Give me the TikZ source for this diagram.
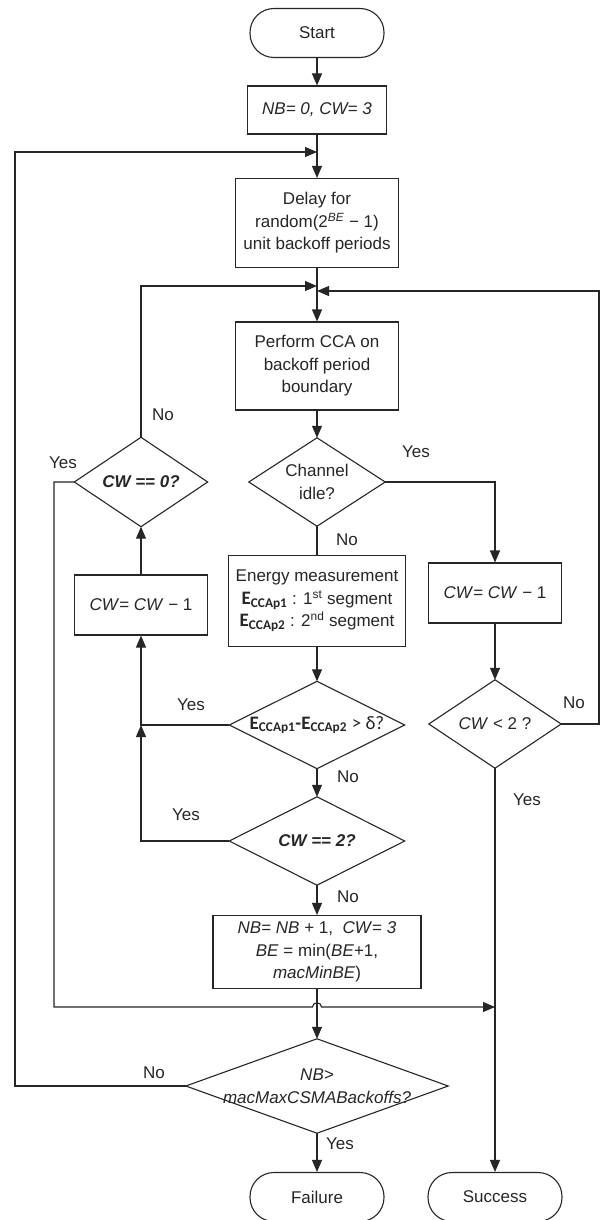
\documentclass[tikz,border=0pt]{standalone}
\usepackage{fontspec}
\setmainfont{Liberation Sans}
\newfontfamily\calfont{Carlito}
\usetikzlibrary{arrows.meta}
\newcommand\Ecc[1]{{\calfont\bfseries\fontsize{19}{22.5}\selectfont E\textsubscript{CCAp#1}}}
\begin{document}
\begin{tikzpicture}[x=1pt,y=-1pt,
  every node/.style={font=\fontsize{17}{22.5}\selectfont, text=black!85, inner sep=0pt},
  box/.style={draw=black!85, line width=1.1pt, align=center},
  term/.style={draw=black!85, line width=1.1pt, rounded corners=24pt, minimum width=134pt, minimum height=49pt},
  dia/.style={align=center},
  ln/.style={line width=1.1pt, draw=black!85},
  arr/.style={ln, -{Triangle[length=12pt,width=10pt]}}]
\fill[white] (0,0) rectangle (600,1220);
\useasboundingbox (0,0) rectangle (600,1220);

% main column
\node[term] (start) at (317,33) {Start};
\node[box, minimum width=139pt, minimum height=48pt] (nb0) at (317,110) {\itshape NB= 0, CW= 3};
\node[box, minimum width=163pt, minimum height=89pt] (delay) at (317,223) {Delay for\\random(2\textsuperscript{\itshape BE} − 1)\\unit backoff periods};
\node[box, minimum width=163pt, minimum height=88pt] (cca) at (317,366) {Perform CCA on\\backoff period\\boundary};
\node[dia, minimum width=136pt, minimum height=88pt] (idle) at (317,482) {Channel\\idle?};
\node[box, minimum width=177pt, minimum height=91pt] (energy) at (317,601) {Energy measurement\\ \Ecc{1} : 1\textsuperscript{st} segment\\ \Ecc{2} : 2\textsuperscript{nd} segment};
\node[dia, minimum width=175pt, minimum height=87pt] (ediff) at (317,725) {\Ecc{1}{\calfont\bfseries\fontsize{19}{22}\selectfont -}\Ecc{2} {\calfont\fontsize{19}{22}\selectfont > δ?}};
\node[dia, minimum width=175pt, minimum height=88pt] (cw2) at (317,841) {\bfseries\itshape CW == 2?};
\node[box, minimum width=208pt, minimum height=73pt] (nbinc) at (317,952) {\textit{NB}= \textit{NB} + 1, \ \textit{CW}= \textit{3}\\ \textit{BE} = min(\textit{BE}+1,\\ \textit{macMinBE})};
\node[dia, minimum width=262pt, minimum height=94pt] (nbmax) at (317,1086) {\itshape NB>\\\itshape macMaxCSMABackoffs?};
\node[term] (fail) at (317,1197) {Failure};
\node[term] (succ) at (495,1197) {Success};

% left column
\node[dia, minimum width=133pt, minimum height=89pt] (cw0) at (141,482) {\bfseries\itshape CW == 0?};
\node[box, minimum width=133pt, minimum height=60pt] (cwl) at (141,605) {\textit{CW}= \textit{CW} − 1};

% right column
\node[box, minimum width=133pt, minimum height=60pt] (cwr) at (495,593) {\textit{CW}= \textit{CW} − 1};
\node[dia, minimum width=132pt, minimum height=88pt] (cwl2) at (495,724) {\textit{CW} < 2 ?};

\foreach \n in {idle,ediff,cw2,nbmax,cw0,cwl2}
  \draw[ln] (\n.north) -- (\n.east) -- (\n.south) -- (\n.west) -- cycle;

% junctions
\coordinate (j1) at (317,152);
\coordinate (oL) at (15,152);
\coordinate (j2l) at (317,286);
\coordinate (j2r) at (317,291);
\coordinate (oR) at (599,291);
\coordinate (iL) at (54,1007);
\coordinate (hA) at (312.5,1007);
\coordinate (hB) at (321.5,1007);
\coordinate (jS) at (495,1007);
\coordinate (jE) at (141,725);

% connectors
\draw[arr] (start) -- (nb0);
\draw[arr] (nb0) -- (delay);
\draw[arr] (nbmax.west) -| (oL) -- (j1);
\draw[arr] (delay) -- (cca);
\draw[arr] (cw0.north) |- (j2l);
\draw[arr] (cwl2.east) -| (oR) -- (j2r);
\draw[arr] (cca.south) -- (idle.north);
\draw[ln] (idle.south) -- (energy.north);
\draw[arr] (idle.east) -| (cwr.north);
\draw[arr] (energy.south) -- (ediff.north);
\draw[arr] (ediff.south) -- (cw2.north);
\draw[arr] (cw2.south) -- (nbinc.north);
\draw[arr] (nbinc.south) -- (nbmax.north);
\draw[arr] (nbmax.south) -- (fail.north);
\draw[arr] (cwr.south) -- (cwl2.north);
\draw[arr] (cwl2.south) -- (succ.north);
\draw[arr] (cwl.north) -- (cw0.south);
\draw[arr] (ediff.west) -| (cwl.south);
\draw[arr] (cw2.west) -| (jE);
\draw[arr] (cw0.west) -| (iL) -- (hA) .. controls (312.5,1001.5) and (321.5,1001.5) .. (hB) -- (jS);

% labels
\node (y1) at (416,452) {Yes};
\node (n1) at (347,540) {No};
\node (n2) at (163,415) {No};
\node (y2) at (63,463) {Yes};
\node (y3) at (191,705) {Yes};
\node (n3) at (348,777) {No};
\node (y4) at (186,815) {Yes};
\node (n4) at (574,703) {No};
\node (y5) at (527,800) {Yes};
\node (n5) at (348,897) {No};
\node (n6) at (154,1073) {No};
\node (y6) at (340,1144) {Yes};
\end{tikzpicture}
\end{document}
